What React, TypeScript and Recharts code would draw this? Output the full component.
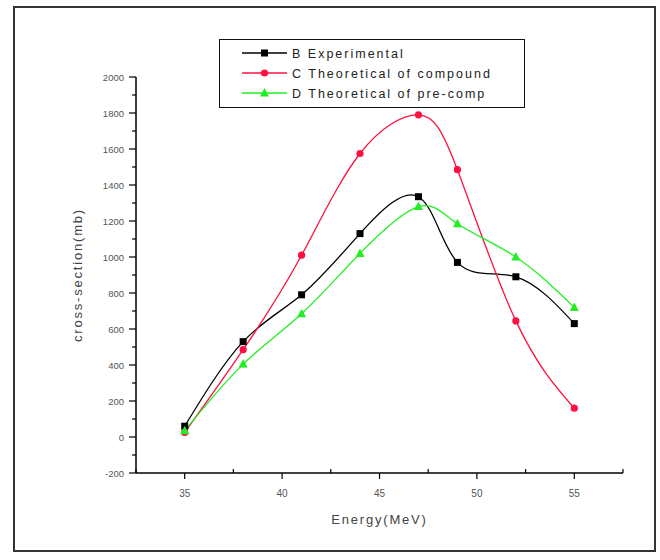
import React from 'react'
import { LineChart, Line, XAxis, YAxis, Legend, Label } from 'recharts'

const energy = [35, 38, 41, 44, 47, 49, 52, 55]
const experimental = [60, 530, 790, 1130, 1335, 970, 890, 630]
const compound = [25, 485, 1010, 1575, 1790, 1485, 645, 160]
const precomp = [35, 405, 685, 1020, 1280, 1185, 1000, 720]

const xTicks = [32.5, 35, 37.5, 40, 42.5, 45, 47.5, 50, 52.5, 55, 57.5]
const yTicks = [-200, -100, 0, 100, 200, 300, 400, 500, 600, 700, 800, 900, 1000, 1100, 1200, 1300, 1400, 1500, 1600, 1700, 1800, 1900, 2000]

const seriesNames = ['B Experimental', 'C Theoretical of compound', 'D Theoretical of pre-comp']
const seriesKeys = ['exp', 'comp', 'pre']
const seriesColors = ['#000000', '#ff1040', '#22ee22']
const seriesShapes = ['square', 'circle', 'triangle']

const data = energy.map((e, i) => ({
  energy: e,
  exp: experimental[i],
  comp: compound[i],
  pre: precomp[i],
}))

const FONT = '"Liberation Sans", Arial, sans-serif'

const Marker = ({ cx, cy, shape, color }: { cx: number; cy: number; shape: string; color: string }) => {
  if (shape === 'square') return <rect x={cx - 3.5} y={cy - 3.5} width={7} height={7} fill={color} />
  if (shape === 'circle') return <circle cx={cx} cy={cy} r={3.6} fill={color} />
  return <polygon points={`${cx},${cy - 5} ${cx - 4.5},${cy + 3.5} ${cx + 4.5},${cy + 3.5}`} fill={color} />
}

const YTick = (props: any) => {
  const { x, y, payload } = props
  const v = payload.value
  const major = v % 200 === 0
  return (
    <g>
      <line x1={x} x2={x - (major ? 7 : 4)} y1={y} y2={y} stroke="#000" strokeWidth={1.2} />
      {major && (
        <text x={x - 12} y={y} dy={3.5} textAnchor="end" fontSize={9.5} fill="#555" fontFamily={FONT}>
          {v}
        </text>
      )}
    </g>
  )
}

const XTick = (props: any) => {
  const { x, y, payload } = props
  const v = payload.value
  const major = v % 5 === 0
  return (
    <g>
      <line x1={x} x2={x} y1={y} y2={major ? y + 6 : y - 4} stroke="#000" strokeWidth={1.2} />
      {major && (
        <text x={x} y={y + 24} textAnchor="middle" fontSize={10} fill="#555" fontFamily={FONT}>
          {v}
        </text>
      )}
    </g>
  )
}

const LegendBox = () => (
  <div
    style={{
      width: 306,
      height: 69,
      border: '1.5px solid #111',
      boxSizing: 'border-box',
      background: '#fff',
      position: 'relative',
    }}
  >
    <svg width={304} height={66} style={{ position: 'absolute', left: 0, top: 0 }}>
      {seriesNames.map((name, i) => {
        const ry = 13 + i * 20
        return (
          <g key={name}>
            <line x1={22} x2={67} y1={ry} y2={ry} stroke={seriesColors[i]} strokeWidth={1.3} />
            <Marker cx={44.5} cy={ry} shape={seriesShapes[i]} color={seriesColors[i]} />
            <text x={72} y={ry + 4.5} fontSize={12.5} letterSpacing={2} fill="#222" fontFamily={FONT}>
              {name}
            </text>
          </g>
        )
      })}
    </svg>
  </div>
)

export default function App() {
  return (
    <div style={{ position: 'absolute', left: 0, top: 0, width: 660, height: 560, background: '#fff' }}>
      <div
        style={{
          position: 'absolute',
          left: 13,
          top: 6,
          width: 643,
          height: 546,
          border: '2px solid #333',
          boxSizing: 'border-box',
        }}
      />
      <div style={{ position: 'absolute', left: 0, top: 0 }}>
        <LineChart width={660} height={560} data={data} margin={{ top: 77, right: 37, bottom: 0, left: 0 }}>
          <XAxis
            dataKey="energy"
            type="number"
            domain={[32.5, 57.5]}
            ticks={xTicks}
            interval={0}
            height={87}
            tickSize={0}
            tickMargin={0}
            tickLine={false}
            tick={<XTick />}
            axisLine={{ stroke: '#000', strokeWidth: 1.5 }}
          >
            <Label
              value="Energy(MeV)"
              position="insideBottom"
              offset={36}
              style={{ fontSize: 13, fill: '#444', fontFamily: FONT, letterSpacing: 1.8 }}
            />
          </XAxis>
          <YAxis
            type="number"
            domain={[-200, 2000]}
            ticks={yTicks}
            interval={0}
            width={136}
            tickSize={0}
            tickMargin={0}
            tickLine={false}
            tick={<YTick />}
            axisLine={{ stroke: '#000', strokeWidth: 1.5 }}
          >
            <Label
              value="cross-section(mb)"
              angle={-90}
              position="center"
              dx={9}
              style={{ fontSize: 13, fill: '#444', fontFamily: FONT, letterSpacing: 1.8, textAnchor: 'middle' }}
            />
          </YAxis>
          <Legend
            layout="horizontal"
            verticalAlign="middle"
            align="center"
            content={() => <LegendBox />}
            wrapperStyle={{ left: 219, top: 39, width: 306, height: 69 }}
          />
          {seriesKeys.map((k, i) => (
            <Line
              key={k}
              dataKey={k}
              name={seriesNames[i]}
              type="natural"
              stroke={seriesColors[i]}
              strokeWidth={1.3}
              isAnimationActive={false}
              dot={(p: any) => <Marker key={`${k}-${p.index}`} cx={p.cx} cy={p.cy} shape={seriesShapes[i]} color={seriesColors[i]} />}
              activeDot={false}
            />
          ))}
        </LineChart>
      </div>
    </div>
  )
}
